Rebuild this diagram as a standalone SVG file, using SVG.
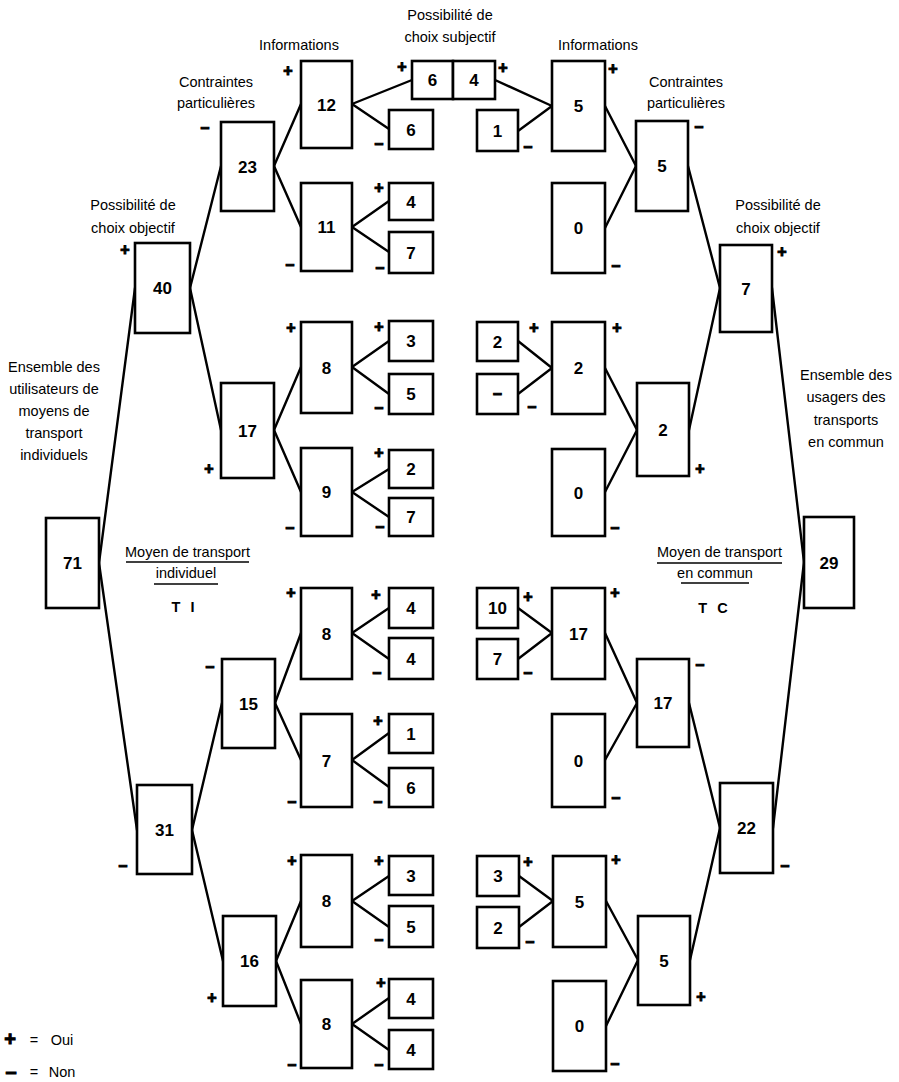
<svg xmlns="http://www.w3.org/2000/svg" width="899" height="1082" viewBox="0 0 899 1082">
<style>
rect{fill:#fff;stroke:#000;stroke-width:2.6}
.n{font-family:"Liberation Sans",Arial,sans-serif;font-weight:bold;font-size:17px;text-anchor:middle}
.s{font-family:"Liberation Sans",Arial,sans-serif;font-weight:bold;font-size:16px;text-anchor:middle;stroke:#000;stroke-width:1}
.l{font-family:"Liberation Sans",Arial,sans-serif;font-size:14.5px;text-anchor:middle}
.u{stroke:#000;stroke-width:1.5}
#connectors line{stroke:#000;stroke-width:2.4;stroke-linecap:round}
</style>
<rect x="0" y="0" width="899" height="1082" style="fill:#fff;stroke:none"/>
<g id="connectors">
<line x1="99" y1="563" x2="135" y2="288"/><line x1="99" y1="563" x2="137" y2="830"/>
<line x1="190" y1="288" x2="221" y2="166"/><line x1="190" y1="288" x2="221" y2="430"/>
<line x1="192" y1="830" x2="222" y2="703"/><line x1="192" y1="830" x2="223" y2="961"/>
<line x1="274" y1="166" x2="301" y2="104"/><line x1="274" y1="166" x2="301" y2="227"/>
<line x1="274" y1="430" x2="301" y2="367"/><line x1="274" y1="430" x2="301" y2="492"/>
<line x1="275" y1="703" x2="301" y2="633"/><line x1="275" y1="703" x2="301" y2="760"/>
<line x1="276" y1="961" x2="301" y2="901"/><line x1="276" y1="961" x2="301" y2="1024"/>
<line x1="352" y1="104" x2="412" y2="80"/><line x1="352" y1="104" x2="389" y2="129"/>
<line x1="352" y1="227" x2="389" y2="201"/><line x1="352" y1="227" x2="389" y2="252"/>
<line x1="352" y1="367" x2="389" y2="341"/><line x1="352" y1="367" x2="389" y2="394"/>
<line x1="352" y1="492" x2="389" y2="469"/><line x1="352" y1="492" x2="389" y2="517"/>
<line x1="352" y1="633" x2="389" y2="608"/><line x1="352" y1="633" x2="389" y2="659"/>
<line x1="352" y1="760" x2="389" y2="733"/><line x1="352" y1="760" x2="389" y2="787"/>
<line x1="352" y1="901" x2="389" y2="876"/><line x1="352" y1="901" x2="389" y2="927"/>
<line x1="352" y1="1024" x2="389" y2="998"/><line x1="352" y1="1024" x2="389" y2="1050"/>
<line x1="495" y1="80" x2="552" y2="106"/><line x1="518" y1="131" x2="552" y2="106"/>
<line x1="605" y1="106" x2="636" y2="166"/><line x1="605" y1="228" x2="636" y2="166"/>
<line x1="688" y1="166" x2="720" y2="288"/><line x1="689" y1="430" x2="720" y2="288"/>
<line x1="772" y1="288" x2="804" y2="562"/><line x1="773" y1="828" x2="804" y2="562"/>
<line x1="518" y1="341" x2="552" y2="368"/><line x1="518" y1="394" x2="552" y2="368"/>
<line x1="605" y1="368" x2="637" y2="430"/><line x1="605" y1="492" x2="637" y2="430"/>
<line x1="518" y1="608" x2="552" y2="633"/><line x1="518" y1="659" x2="552" y2="633"/>
<line x1="605" y1="633" x2="637" y2="703"/><line x1="605" y1="760" x2="637" y2="703"/>
<line x1="689" y1="703" x2="720" y2="828"/><line x1="690" y1="960" x2="720" y2="828"/>
<line x1="519" y1="876" x2="553" y2="901"/><line x1="519" y1="927" x2="553" y2="901"/>
<line x1="606" y1="901" x2="638" y2="960"/><line x1="606" y1="1026" x2="638" y2="960"/>
</g>
<!-- left tree -->
<g id="n71"><rect x="46" y="518" width="53" height="90"/><text class="n" x="72.5" y="569">71</text></g>
<g id="n40"><rect x="135" y="243" width="55" height="90"/><text class="n" x="162.5" y="294">40</text><text class="s" x="125" y="255">+</text></g>
<g id="n31"><rect x="137" y="785" width="55" height="89"/><text class="n" x="164.5" y="835.5">31</text><text class="s" x="123" y="871">–</text></g>
<g id="n23"><rect x="221" y="122" width="53" height="89"/><text class="n" x="247.5" y="172.5">23</text><text class="s" x="205" y="133">–</text></g>
<g id="n17"><rect x="221" y="383" width="53" height="95"/><text class="n" x="247.5" y="436.5">17</text><text class="s" x="209" y="474">+</text></g>
<g id="n15"><rect x="222" y="659" width="53" height="89"/><text class="n" x="248.5" y="709.5">15</text><text class="s" x="210" y="672">–</text></g>
<g id="n16"><rect x="223" y="916" width="53" height="90"/><text class="n" x="249.5" y="967">16</text><text class="s" x="212" y="1003">+</text></g>
<g id="n12"><rect x="301" y="61" width="51" height="87"/><text class="n" x="326.5" y="110.5">12</text><text class="s" x="288" y="76">+</text></g>
<g id="n11"><rect x="301" y="183" width="51" height="88"/><text class="n" x="326.5" y="233">11</text><text class="s" x="290" y="270">–</text></g>
<g id="n8a"><rect x="301" y="322" width="51" height="91"/><text class="n" x="326.5" y="373.5">8</text><text class="s" x="291" y="333">+</text></g>
<g id="n9"><rect x="301" y="448" width="51" height="88"/><text class="n" x="326.5" y="498">9</text><text class="s" x="290" y="533">–</text></g>
<g id="n8b"><rect x="301" y="588" width="51" height="91"/><text class="n" x="326.5" y="639.5">8</text><text class="s" x="291" y="598">+</text></g>
<g id="n7"><rect x="301" y="714" width="51" height="93"/><text class="n" x="326.5" y="766.5">7</text><text class="s" x="292" y="807">–</text></g>
<g id="n8c"><rect x="301" y="855" width="51" height="92"/><text class="n" x="326.5" y="907">8</text><text class="s" x="292" y="866">+</text></g>
<g id="n8d"><rect x="301" y="980" width="51" height="88"/><text class="n" x="326.5" y="1030">8</text><text class="s" x="292" y="1070">–</text></g>
<g id="p6"><rect x="412" y="61" width="41" height="38"/><text class="n" x="432.5" y="86">6</text><text class="s" x="402" y="72">+</text></g>
<g id="a6"><rect x="389" y="110" width="44" height="39"/><text class="n" x="411" y="135.5">6</text><text class="s" x="379" y="149">–</text></g>
<g id="a4"><rect x="389" y="183" width="44" height="37"/><text class="n" x="411" y="207.5">4</text><text class="s" x="379" y="193">+</text></g>
<g id="a7"><rect x="389" y="232" width="44" height="41"/><text class="n" x="411" y="258.5">7</text><text class="s" x="380" y="273">–</text></g>
<g id="b3"><rect x="389" y="321" width="44" height="40"/><text class="n" x="411" y="347">3</text><text class="s" x="379" y="332">+</text></g>
<g id="b5"><rect x="389" y="374" width="44" height="40"/><text class="n" x="411" y="400">5</text><text class="s" x="379" y="413">–</text></g>
<g id="c2"><rect x="389" y="450" width="44" height="38"/><text class="n" x="411" y="475">2</text><text class="s" x="379" y="458">+</text></g>
<g id="c7"><rect x="389" y="498" width="44" height="38"/><text class="n" x="411" y="523">7</text><text class="s" x="380" y="532">–</text></g>
<g id="d4"><rect x="389" y="588" width="44" height="40"/><text class="n" x="411" y="614">4</text><text class="s" x="376" y="600">+</text></g>
<g id="d4b"><rect x="389" y="638" width="44" height="41"/><text class="n" x="411" y="664.5">4</text><text class="s" x="377" y="678">–</text></g>
<g id="e1"><rect x="389" y="714" width="44" height="39"/><text class="n" x="411" y="739.5">1</text><text class="s" x="378" y="726">+</text></g>
<g id="e6"><rect x="389" y="768" width="44" height="39"/><text class="n" x="411" y="793.5">6</text><text class="s" x="378" y="807">–</text></g>
<g id="f3"><rect x="389" y="856" width="44" height="39"/><text class="n" x="411" y="881.5">3</text><text class="s" x="379" y="866">+</text></g>
<g id="f5"><rect x="389" y="906" width="44" height="41"/><text class="n" x="411" y="932.5">5</text><text class="s" x="379" y="945">–</text></g>
<g id="g4"><rect x="389" y="979" width="44" height="39"/><text class="n" x="411" y="1004.5">4</text><text class="s" x="381" y="988">+</text></g>
<g id="g4b"><rect x="389" y="1030" width="44" height="39"/><text class="n" x="411" y="1055.5">4</text><text class="s" x="379" y="1070">–</text></g>
<!-- right tree -->
<g id="p4"><rect x="453" y="61" width="42" height="38"/><text class="n" x="474" y="86">4</text><text class="s" x="503" y="73">+</text></g>
<g id="r1"><rect x="477" y="110" width="41" height="41"/><text class="n" x="497.5" y="136.5">1</text><text class="s" x="528" y="152">–</text></g>
<g id="r2s"><rect x="477" y="322" width="41" height="39"/><text class="n" x="497.5" y="347.5">2</text><text class="s" x="534" y="333">+</text></g>
<g id="rdash"><rect x="477" y="374" width="41" height="40"/><text class="s" x="497.5" y="399">–</text><text class="s" x="532" y="412">–</text></g>
<g id="r10"><rect x="477" y="588" width="41" height="40"/><text class="n" x="497.5" y="614">10</text><text class="s" x="528" y="602">+</text></g>
<g id="r7s"><rect x="477" y="639" width="41" height="40"/><text class="n" x="497.5" y="665">7</text><text class="s" x="528" y="678">–</text></g>
<g id="r3"><rect x="477" y="856" width="42" height="40"/><text class="n" x="498" y="882">3</text><text class="s" x="528" y="867">+</text></g>
<g id="r2"><rect x="477" y="907" width="42" height="41"/><text class="n" x="498" y="933.5">2</text><text class="s" x="530" y="947">–</text></g>
<g id="i5"><rect x="552" y="61" width="53" height="90"/><text class="n" x="578.5" y="112">5</text><text class="s" x="613" y="74">+</text></g>
<g id="i0a"><rect x="552" y="183" width="53" height="90"/><text class="n" x="578.5" y="234">0</text><text class="s" x="616" y="271">–</text></g>
<g id="i2"><rect x="552" y="322" width="53" height="92"/><text class="n" x="578.5" y="374">2</text><text class="s" x="617" y="333">+</text></g>
<g id="i0b"><rect x="552" y="449" width="53" height="87"/><text class="n" x="578.5" y="498.5">0</text><text class="s" x="615" y="533">–</text></g>
<g id="i17"><rect x="552" y="588" width="53" height="91"/><text class="n" x="578.5" y="639.5">17</text><text class="s" x="615" y="598">+</text></g>
<g id="i0c"><rect x="552" y="714" width="53" height="93"/><text class="n" x="578.5" y="766.5">0</text><text class="s" x="616" y="803">–</text></g>
<g id="i5b"><rect x="553" y="856" width="53" height="91"/><text class="n" x="579.5" y="907.5">5</text><text class="s" x="616" y="865">+</text></g>
<g id="i0d"><rect x="553" y="981" width="53" height="90"/><text class="n" x="579.5" y="1032">0</text><text class="s" x="615" y="1069">–</text></g>
<g id="c5"><rect x="636" y="121" width="52" height="90"/><text class="n" x="662" y="172">5</text><text class="s" x="699" y="132">–</text></g>
<g id="c2r"><rect x="637" y="383" width="52" height="93"/><text class="n" x="663" y="435.5">2</text><text class="s" x="700" y="474">+</text></g>
<g id="c17"><rect x="637" y="659" width="52" height="88"/><text class="n" x="663" y="709">17</text><text class="s" x="700" y="670">–</text></g>
<g id="c5b"><rect x="638" y="916" width="52" height="89"/><text class="n" x="664" y="966.5">5</text><text class="s" x="701" y="1002">+</text></g>
<g id="o7"><rect x="720" y="245" width="52" height="87"/><text class="n" x="746" y="294.5">7</text><text class="s" x="782" y="257">+</text></g>
<g id="o22"><rect x="720" y="783" width="53" height="90"/><text class="n" x="746.5" y="834">22</text><text class="s" x="785" y="871">–</text></g>
<g id="o29"><rect x="804" y="517" width="50" height="91"/><text class="n" x="829" y="568.5">29</text></g>
<!-- labels -->
<g id="labels">
<text class="l" x="450" y="20">Possibilité de</text>
<text class="l" x="450" y="42">choix subjectif</text>
<text class="l" x="299" y="50">Informations</text>
<text class="l" x="598" y="50">Informations</text>
<text class="l" x="216" y="87">Contraintes</text>
<text class="l" x="216" y="108">particulières</text>
<text class="l" x="686" y="87">Contraintes</text>
<text class="l" x="686" y="108">particulières</text>
<text class="l" x="133" y="210">Possibilité de</text>
<text class="l" x="133" y="233">choix objectif</text>
<text class="l" x="778" y="210">Possibilité de</text>
<text class="l" x="778" y="233">choix objectif</text>
<text class="l" x="54" y="372">Ensemble des</text>
<text class="l" x="54" y="394">utilisateurs de</text>
<text class="l" x="54" y="416">moyens de</text>
<text class="l" x="54" y="438">transport</text>
<text class="l" x="54" y="460">individuels</text>
<text class="l" x="846" y="380">Ensemble des</text>
<text class="l" x="846" y="402">usagers des</text>
<text class="l" x="846" y="425">transports</text>
<text class="l" x="846" y="447">en commun</text>
<text class="l" x="187.5" y="557">Moyen de transport</text>
<line class="u" x1="126" y1="562" x2="249" y2="562"/>
<text class="l" x="186" y="578">individuel</text>
<line class="u" x1="154" y1="584" x2="218" y2="584"/>
<text class="l" x="183" y="612" style="font-weight:bold;word-spacing:6px">T I</text>
<text class="l" x="719.5" y="557">Moyen de transport</text>
<line class="u" x1="657" y1="563" x2="782" y2="563"/>
<text class="l" x="715" y="578">en commun</text>
<line class="u" x1="681" y1="583" x2="749" y2="583"/>
<text class="l" x="713" y="613" style="font-weight:bold;word-spacing:6px">T C</text>
</g>
<g id="legend">
<text class="s" x="10" y="1046" style="font-size:20px">+</text>
<text class="l" x="34" y="1045">=</text>
<text class="l" x="62" y="1045">Oui</text>
<text class="s" x="11" y="1078" style="font-size:20px">–</text>
<text class="l" x="34" y="1077">=</text>
<text class="l" x="62" y="1077">Non</text>
</g>
</svg>
